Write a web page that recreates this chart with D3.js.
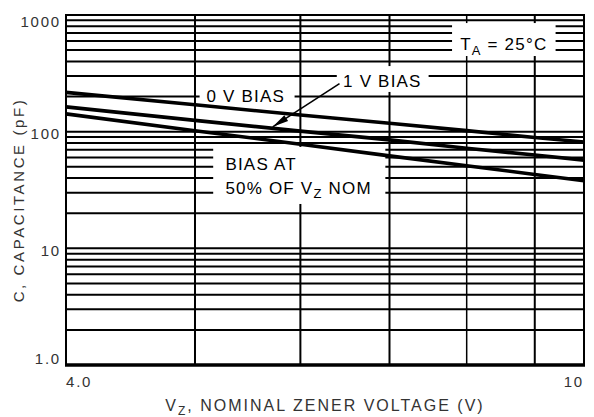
<!DOCTYPE html>
<html>
<head>
<meta charset="utf-8">
<script src="https://cdn.jsdelivr.net/npm/d3@7"></script>
<style>
  body { margin: 0; background: #fff; }
  svg { display: block; font-family: "Liberation Sans", Arial, sans-serif; }
</style>
</head>
<body>
<svg id="chart" width="594" height="417"></svg>
<script>
// zener voltage (V) sample points
const voltages = [4.0, 5, 6, 7, 8, 9, 9.8]
// capacitance (pF) for each bias condition
const zeroBias = [217, 170, 139, 118, 102, 89, 81.5]
const oneVoltBias = [163, 125, 101, 85, 72, 63, 57]
const halfVzBias = [142, 102, 78, 62, 51, 43, 38]

const yTickValues = [1, 10, 100, 1000]
const yTickLabels = ["1.0", "10", "100", "1000"]
const xGridValues = [5, 6, 7, 8, 9]
const xTickLabels = ["4.0", "10"]

const series = [
  { name: "0 V BIAS", values: zeroBias },
  { name: "1 V BIAS", values: oneVoltBias },
  { name: "BIAS AT 50% OF VZ NOM", values: halfVzBias },
]

const svg = d3.select("#chart")
const width = 594
const height = 417
const margin = { top: 15, right: 10, bottom: 52, left: 66 }

const x = d3.scaleLog().domain([4, 9.8]).range([margin.left, width - margin.right])
const y = d3.scaleLog().domain([1, 1000]).range([height - margin.bottom, margin.top])
const [x0, x1] = x.range()
const [y0, y1] = y.range()

// horizontal grid: every 1..9 of each decade
const hGrid = []
for (let dec of [1, 10, 100]) for (let k = 1; k <= 9; k++) hGrid.push(k * dec)
hGrid.push(1000)

const grid = svg.append("g").attr("stroke", "#000")
grid.selectAll(".h")
  .data(hGrid)
  .join("line")
  .attr("x1", x0).attr("x2", x1)
  .attr("y1", (d) => y(d)).attr("y2", (d) => y(d))
  .attr("stroke-width", 2)
grid.selectAll(".v")
  .data(xGridValues)
  .join("line")
  .attr("x1", (d) => x(d)).attr("x2", (d) => x(d))
  .attr("y1", y1).attr("y2", y0)
  .attr("stroke-width", (d) => (d === 8 ? 1.5 : 2))

// white boxes that knock the grid out behind the labels (data coords)
const boxes = [
  { v0: 5.04, v1: 5.94, c0: 251, c1: 172 },  // 0 V BIAS
  { v0: 6.39, v1: 7.49, c0: 365, c1: 219 },  // 1 V BIAS
  { v0: 7.8, v1: 9.33, c0: 853, c1: 445 },   // TA
  { v0: 5.16, v1: 6.95, c0: 74, c1: 24 },    // BIAS AT 50%
]
svg.append("g")
  .selectAll("rect")
  .data(boxes)
  .join("rect")
  .attr("x", (d) => x(d.v0))
  .attr("y", (d) => y(d.c0))
  .attr("width", (d) => x(d.v1) - x(d.v0))
  .attr("height", (d) => y(d.c1) - y(d.c0))
  .attr("fill", "#fff")

// curves
const line = d3.line()
  .x((d, i) => x(voltages[i]))
  .y((d) => y(d))
svg.append("g")
  .selectAll("path")
  .data(series)
  .join("path")
  .attr("d", (d) => line(d.values))
  .attr("fill", "none")
  .attr("stroke", "#000")
  .attr("stroke-width", 3.6)

// leader for 1 V BIAS
const tail = [x(6.42), y(258)]
const tip = [x(5.72), y(110)]
svg.append("line")
  .attr("x1", tail[0]).attr("y1", tail[1])
  .attr("x2", tip[0]).attr("y2", tip[1])
  .attr("stroke", "#000").attr("stroke-width", 1.6)
{
  const ang = Math.atan2(tip[1] - tail[1], tip[0] - tail[0])
  const L = 16, Wd = 3.5
  const bx = tip[0] - L * Math.cos(ang), by = tip[1] - L * Math.sin(ang)
  const px = -Math.sin(ang) * Wd, py = Math.cos(ang) * Wd
  svg.append("path")
    .attr("d", `M${tip[0]},${tip[1]}L${bx + px},${by + py}L${bx - px},${by - py}Z`)
    .attr("fill", "#000")
}

// border
svg.append("rect")
  .attr("x", x0).attr("y", y1)
  .attr("width", x1 - x0).attr("height", y0 - y1)
  .attr("fill", "none").attr("stroke", "#000").attr("stroke-width", 2)
svg.append("line")
  .attr("x1", x0 - 1).attr("x2", x1 + 1)
  .attr("y1", y0).attr("y2", y0)
  .attr("stroke", "#000").attr("stroke-width", 3.5)

const txt = svg.append("g").attr("fill", "#111").attr("font-size", 15).attr("letter-spacing", 1.8)

// y tick labels
txt.selectAll(".yt")
  .data(yTickValues)
  .join("text")
  .attr("x", x0 - 5)
  .attr("y", (d) => Math.min(Math.max(y(d) + 2, y1 + 6), y0 - 7))
  .attr("dominant-baseline", "central")
  .attr("text-anchor", "end")
  .attr("fill", "#333")
  .text((d, i) => yTickLabels[i])

// x tick labels at the ends
txt.append("text").attr("x", x0).attr("y", y0 + 22).attr("fill", "#333").text(xTickLabels[0])
txt.append("text").attr("x", x1).attr("y", y0 + 22).attr("text-anchor", "end").attr("fill", "#333").text(xTickLabels[1])

// axis titles
const xt = txt.append("text")
  .attr("x", (x0 + x1) / 2)
  .attr("y", height - 6)
  .attr("text-anchor", "middle")
  .attr("fill", "#333")
  .attr("font-size", 16)
  .attr("letter-spacing", 2)
xt.append("tspan").text("V")
xt.append("tspan").attr("font-size", 12).attr("dy", 4).text("Z")
xt.append("tspan").attr("dy", -4).text(", NOMINAL ZENER VOLTAGE (V)")

txt.append("text")
  .attr("transform", `translate(24,${(y0 + y1) / 2 + 10}) rotate(-90)`)
  .attr("text-anchor", "middle")
  .attr("fill", "#333")
  .attr("letter-spacing", 2.6)
  .text("C, CAPACITANCE (pF)")

// in-plot labels
const lab = txt.append("g").attr("fill", "#000").attr("font-size", 17).attr("letter-spacing", 1.2)
lab.append("text").attr("x", x(5.1)).attr("y", y(180)).text("0 V BIAS")
lab.append("text").attr("x", x(6.46)).attr("y", y(241)).text("1 V BIAS")
lab.append("text").attr("x", x(5.27)).attr("y", y(47)).text("BIAS AT")
const vz = lab.append("text").attr("x", x(5.27)).attr("y", y(29.2))
vz.append("tspan").text("50% OF V")
vz.append("tspan").attr("font-size", 13).attr("dy", 4).text("Z")
vz.append("tspan").attr("dy", -4).text(" NOM")
const ta = lab.append("text").attr("x", x(7.91)).attr("y", y(501))
ta.append("tspan").text("T")
ta.append("tspan").attr("font-size", 13).attr("dy", 5).text("A")
ta.append("tspan").attr("dy", -5).text(" = 25°C")
</script>
</body>
</html>
